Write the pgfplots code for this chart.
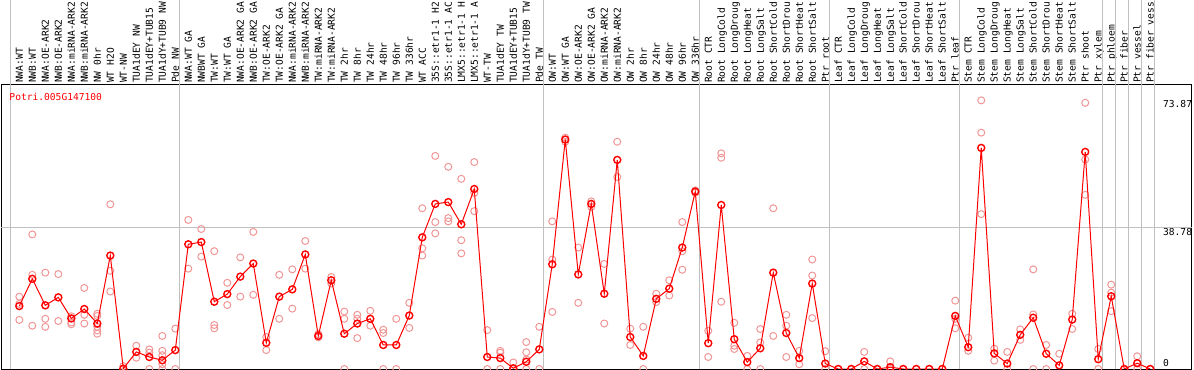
\documentclass[border=0pt]{standalone}
\usepackage{fontspec}
\setmonofont{DejaVu Sans Mono}
\usepackage{pgfplots}
\pgfplotsset{compat=1.18}
\definecolor{rep}{RGB}{240,150,150}
\definecolor{gridgray}{RGB}{192,192,192}
\newcommand{\lblfont}{\ttfamily\fontsize{9.6bp}{10bp}\selectfont}
\begin{document}
\begin{tikzpicture}
\useasboundingbox (0,0) rectangle (1194bp,370bp);
\clip (0,0) rectangle (1194bp,370bp);
\begin{axis}[
  at={(1bp,1bp)}, anchor=south west,
  scale only axis, width=1191bp, height=284bp,
  xmin=-1.408, xmax=90.21, ymin=0, ymax=78.1,
  clip mode=individual,
  axis line style={black, line width=1bp},
  major tick length=0pt,
  xtick={0,...,87},
  xticklabel pos=upper,
  xticklabels={NWA:WT,NWB:WT,NWA:OE-ARK2,NWB:OE-ARK2,NWA:miRNA-ARK2,NWB:miRNA-ARK2,NW 0hr,WT H2O,WT-NW,TUA1dEY NW,TUA1dEY+TUB15,TUA1dY+TUB9 NW,Pde NW,
    NWA:WT GA,NWBWT GA,TW:WT,TW:WT GA,NWA:OE-ARK2 GA,NWB:OE-ARK2 GA,TW:OE-ARK2,TW:OE-ARK2 GA,NWA:miRNA-ARK2,NWB:miRNA-ARK2,TW:miRNA-ARK2,TW:miRNA-ARK2,TW 2hr,TW 8hr,TW 24hr,TW 48hr,TW 96hr,TW 336hr,WT ACC,35S::etr1-1 H2,35S::etr1-1 AC,LMX5::etr1-1 H,LMX5::etr1-1 A,WT-TW,TUA1dEY TW,TUA1dEY+TUB15,TUA1dY+TUB9 TW,Pde TW,
    OW:WT,OW:WT GA,OW:OE-ARK2,OW:OE-ARK2 GA,OW:miRNA-ARK2,OW:miRNA-ARK2,OW 2hr,OW 8hr,OW 24hr,OW 48hr,OW 96hr,OW 336hr,
    Root CTR,Root LongCold,Root LongDroug,Root LongHeat,Root LongSalt,Root ShortCold,Root ShortDrou,Root ShortHeat,Root ShortSalt,Ptr root,
    Leaf CTR,Leaf LongCold,Leaf LongDroug,Leaf LongHeat,Leaf LongSalt,Leaf ShortCold,Leaf ShortDrou,Leaf ShortHeat,Leaf ShortSalt,Ptr leaf,
    Stem CTR,Stem LongCold,Stem LongDroug,Stem LongHeat,Stem LongSalt,Stem ShortCold,Stem ShortDrou,Stem ShortHeat,Stem ShortSalt,Ptr shoot,Ptr xylem,
    Ptr phloem,Ptr fiber,Ptr vessel,Ptr fiber vess},
  xticklabel style={font=\lblfont, rotate=90, anchor=west, inner sep=0pt, text height=7bp, text depth=0bp},
  xticklabel shift=2bp,
  ytick={38.78,73.87},
  yticklabels={38.78,73.87},
  yticklabel pos=right,
  yticklabel style={font=\lblfont, anchor=north west, inner sep=0pt, xshift=-29bp, text height=7bp, text depth=0bp},
  extra y ticks={0},
  extra y tick labels={0},
  extra y tick style={yticklabel style={anchor=south west, yshift=2bp}},
]
\pgfplotsinvokeforeach{-0.7,12.3,40.3,52.3,62.3,72.3,83.3,84.3,85.3,86.3,87.3}{
  \draw[gridgray, line width=1bp] (axis cs:#1,0) -- ++(0bp,400bp);
}
\draw[gridgray, line width=1bp] (axis cs:-1.408,38.78) -- (axis cs:90.21,38.78);
\node[anchor=west, inner sep=0pt, text=red, font=\lblfont] at ([xshift=8.3bp, yshift=-12.3bp]rel axis cs:0,1) {Potri.005G147100};

\addplot[only marks, mark=o, mark size=3.5bp, color=rep, mark options={line width=1bp}] table {
x y
0 19.9
0 13.5
0 17.9
1 37.0
1 25.9
1 11.9
2 26.5
2 13.8
2 11.6
3 26.1
3 13.2
4 14.5
4 12.8
4 12.3
5 22.3
5 14.9
5 12.5
6 15.2
6 14.6
6 11.6
6 10.6
6 9.7
7 45.3
7 27.0
7 21.3
8 0.8
8 0
9 6.4
9 3.1
10 5.4
10 4.5
10 0
11 9.1
11 5.0
11 3.8
11 1.3
11 0
12 11.1
12 0
13 41.0
13 27.6
14 38.5
14 30.9
15 32.4
15 12.1
15 11.2
16 23.7
16 17.6
17 30.7
17 19.9
18 37.7
18 20.4
19 8.8
19 5.2
20 25.9
20 13.8
21 27.4
21 16.6
22 35.2
22 27.6
23 9.6
23 8.7
24 25.3
24 23.5
25 15.8
25 13.8
25 0
26 14.9
26 13.8
26 8.5
27 16.0
27 11.9
28 10.8
28 9.9
28 0
29 13.8
29 0
30 18.2
30 11.3
31 44.2
31 33.2
31 31.2
32 58.6
32 40.4
32 37.3
33 55.6
33 41.5
33 40.6
34 52.3
34 35.4
34 31.8
35 56.9
35 48.4
35 43.4
36 10.7
36 0
37 5.0
37 4.5
37 0
38 1.8
38 0
39 7.4
39 4.6
39 2.6
39 0
40 11.6
40 0
41 40.6
41 30.1
41 15.7
42 63.6
42 62.5
43 33.4
43 18.2
44 46.1
44 44.6
45 28.9
45 12.5
46 62.5
46 52.8
47 11.1
47 6.6
48 11.6
48 0
49 20.7
49 18.4
50 24.4
50 20.2
51 40.4
51 32.4
51 27.3
52 49.1
52 48.5
53 10.5
53 3.3
54 59.3
54 58.1
54 18.5
55 12.7
55 6.4
55 5.5
56 3.6
56 0
57 11.0
57 7.3
57 0
58 44.2
58 9.1
59 14.9
59 11.9
59 3.3
60 5.0
60 1.3
61 30.1
61 25.7
61 14.0
62 4.9
62 0
63 0
64 0
65 4.7
65 0
66 0
67 2.1
67 0
68 0
69 0
70 0
71 0
72 18.8
72 11.2
72 13.8
73 8.6
73 5.0
74 73.87
74 65.0
74 42.6
75 5.6
75 2.3
76 4.7
76 0
77 10.9
77 8.0
78 27.4
78 15.0
78 0
79 6.6
79 0
80 4.2
81 15.2
81 11.0
82 73.2
82 57.6
82 47.9
83 5.5
83 0
84 23.2
84 21.0
84 15.9
85 0
86 3.5
86 0
87 0
};

\addplot[color=red, line width=1bp, mark=o, mark size=3.5bp, mark options={line width=1.4bp}] table {
x y
0 17.3
1 24.8
2 17.5
3 19.7
4 13.9
5 16.5
6 12.5
7 31.2
8 0.1
9 4.7
10 3.3
11 2.4
12 5.2
13 34.3
14 34.9
15 18.5
16 20.6
17 25.4
18 29.0
19 7.2
20 19.9
21 21.9
22 31.5
23 9.1
24 24.4
25 9.7
26 12.5
27 13.8
28 6.6
29 6.6
30 14.7
31 36.2
32 45.4
33 45.9
34 39.8
35 49.5
36 3.3
37 3.0
38 0.2
39 2.0
40 5.4
41 28.8
42 63.1
43 26.0
44 45.4
45 20.7
46 57.5
47 8.8
48 3.6
49 19.3
50 22.1
51 33.4
52 48.8
53 7.1
54 45.1
55 8.2
56 1.9
57 5.7
58 26.5
59 9.9
60 3.0
61 23.5
62 1.5
63 0
64 0
65 2.1
66 0
67 0.5
68 0
69 0
70 0
71 0
72 14.6
73 6.0
74 60.8
75 4.3
76 1.5
77 9.4
78 14.1
79 4.2
80 1.0
81 13.6
82 59.7
83 2.7
84 20.0
85 0
86 1.6
87 0
};
\end{axis}
\end{tikzpicture}
\end{document}
